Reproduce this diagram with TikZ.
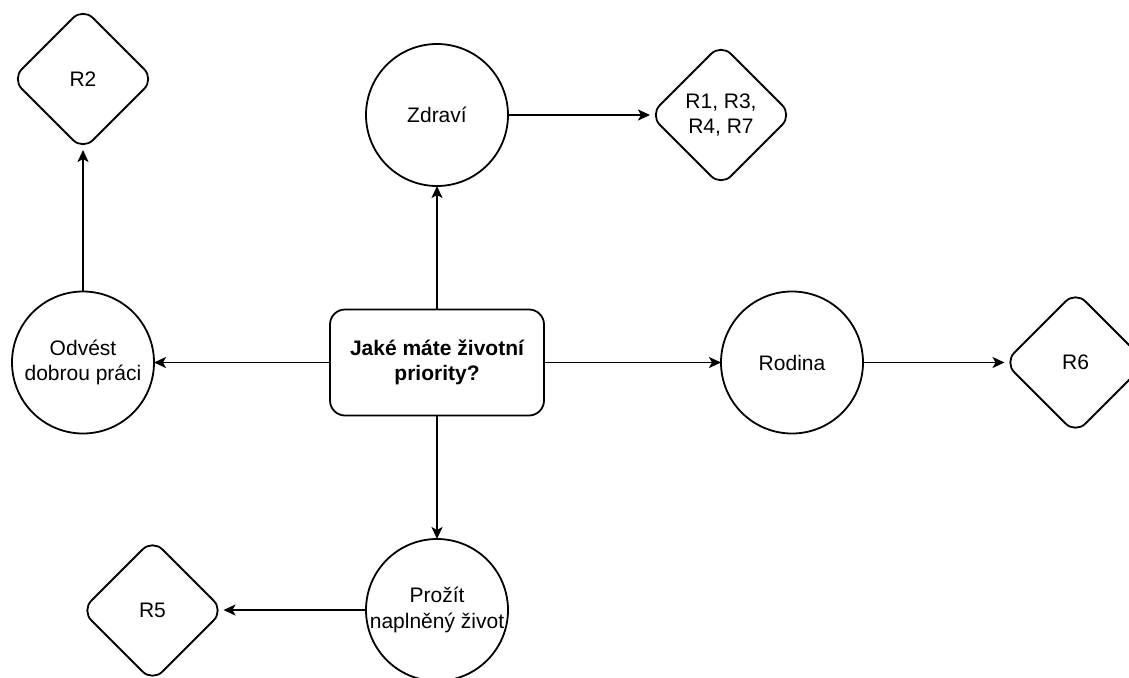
\documentclass[tikz,border=0pt]{standalone}
\usepackage{fontspec}
\setmainfont{Liberation Sans}
\usetikzlibrary{shapes.geometric,arrows.meta}

\tikzset{
  base/.style={draw=black, line width=1.8pt, fill=white, inner sep=0pt, outer sep=0pt},
  txt/.style={font=\fontsize{21}{25.2}\selectfont, align=center, text=black},
  goal/.style={base, circle, minimum size=142pt},
  result/.style={base, diamond, aspect=1, minimum width=142pt, minimum height=142pt, rounded corners=14pt},
  question/.style={base, rectangle, rounded corners=15pt, minimum width=214pt, minimum height=106pt,
    font=\fontsize{21}{25.2}\selectfont\bfseries, align=center},
  link/.style={line width=1.8pt, -{Stealth[length=12pt, width=11pt, inset=3pt]}},
}

\begin{document}
\begin{tikzpicture}[x=1pt, y=-1pt]
  \useasboundingbox (0,0) rectangle (1129,677);
  \clip (0,0) rectangle (1129,677);
  \fill[white] (0,0) rectangle (1129,677);

  % central question
  \node[question] (q) at (437,362.5) {Jaké máte životní\\priority?};

  % life priorities
  \node[goal, label={[txt]center:Zdraví}] (zd) at (437,115) {};
  \node[goal, label={[txt]center:Odvést\\dobrou práci}] (od) at (83,362.5) {};
  \node[goal, label={[txt]center:Rodina}] (ro) at (792,362.5) {};
  \node[goal, label={[txt]center:Prožít\\naplněný život}] (pr) at (437,610) {};

  % recommendations
  \node[result, label={[txt]center:R1, R3,\\R4, R7}] (r1) at (721,115) {};
  \node[result, label={[txt]center:R2}] (r2) at (83,79) {};
  \node[result, label={[txt]center:R6}] (r6) at (1075.5,362.5) {};
  \node[result, label={[txt]center:R5}] (r5) at (152.5,610.5) {};

  % connectors
  \draw[link] (q.north) -- (zd.south);
  \draw[link] (q.west) -- (od.east);
  \draw[link] (q.east) -- (ro.west);
  \draw[link] (q.south) -- (pr.north);
  \draw[link] (zd.east) -- (r1.west);
  \draw[link] (od.north) -- (r2.south);
  \draw[link] (ro.east) -- (r6.west);
  \draw[link] (pr.west) -- (r5.east |- pr.west);
\end{tikzpicture}
\end{document}
